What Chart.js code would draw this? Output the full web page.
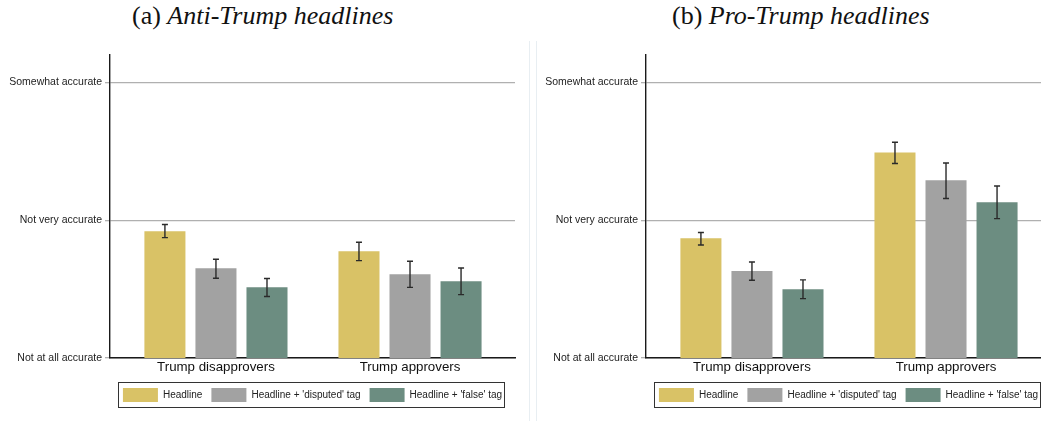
<!DOCTYPE html>
<html>
<head>
<meta charset="utf-8">
<script src="https://cdn.jsdelivr.net/npm/chart.js@4.4.1/dist/chart.umd.min.js"></script>
<style>
  html, body { margin: 0; padding: 0; background: #fff; width: 1041px; height: 421px; overflow: hidden; }
  .panel { position: absolute; top: 0; width: 529px; height: 421px; }
  #panelA { left: 0; }
  #panelB { left: 536px; }
  .edge { position: absolute; top: 41px; bottom: 0; width: 1px; background: #e8eef2; }
  .ttl { position: absolute; top: 3px; font-family: "Liberation Serif", serif; font-size: 26px;
         line-height: 26px; color: #111; white-space: nowrap; }
  canvas { position: absolute; left: 0; top: 0; }
</style>
</head>
<body>
<div class="edge" style="left:529px"></div>
<div class="edge" style="left:536px"></div>
<div class="ttl" style="left:132px">(a) <i>Anti-Trump headlines</i></div>
<div class="ttl" style="left:672px">(b) <i>Pro-Trump headlines</i></div>
<div class="panel" id="panelA"><canvas id="chartA" width="529" height="421"></canvas></div>
<div class="panel" id="panelB"><canvas id="chartB" width="529" height="421"></canvas></div>
<script>
const groups = ['Trump disapprovers', 'Trump approvers'];
const groupPos = [0, 1];
const seriesNames = ['Headline', "Headline + 'disputed' tag", "Headline + 'false' tag"];
const seriesColors = ['#d9c266', '#a2a2a2', '#6c8d81'];
const yTicks = [1, 2, 3];
const yLabels = ['Not at all accurate', 'Not very accurate', 'Somewhat accurate'];

// (a) anti-Trump headlines: mean rating with CI bounds
const antiHeadline = [1.92, 1.775];
const antiHeadlineLo = [1.874, 1.707];
const antiHeadlineHi = [1.969, 1.840];
const antiDisputed = [1.651, 1.608];
const antiDisputedLo = [1.579, 1.513];
const antiDisputedHi = [1.717, 1.702];
const antiFalse = [1.513, 1.557];
const antiFalseLo = [1.446, 1.460];
const antiFalseHi = [1.577, 1.654];

// (b) pro-Trump headlines
const proHeadline = [1.869, 2.492];
const proHeadlineLo = [1.821, 2.412];
const proHeadlineHi = [1.911, 2.566];
const proDisputed = [1.632, 2.29];
const proDisputedLo = [1.564, 2.158];
const proDisputedHi = [1.697, 2.416];
const proFalse = [1.499, 2.131];
const proFalseLo = [1.431, 2.012];
const proFalseHi = [1.567, 2.249];

const sans = '"Liberation Sans", Arial, sans-serif';

// whiskers with caps, drawn on top of the bars
const errorBars = {
    id: 'errorBars',
    afterDatasetsDraw(chart) {
        const ctx = chart.ctx;
        const y = chart.scales.y;
        ctx.save();
        ctx.strokeStyle = '#2a2a2a';
        ctx.lineWidth = 1.4;
        chart.data.datasets.forEach((ds, i) => {
            chart.getDatasetMeta(i).data.forEach((bar, j) => {
                const top = y.getPixelForValue(ds.errHigh[j]);
                const bot = y.getPixelForValue(ds.errLow[j]);
                ctx.beginPath();
                ctx.moveTo(bar.x, top); ctx.lineTo(bar.x, bot);
                ctx.moveTo(bar.x - 3, top); ctx.lineTo(bar.x + 3, top);
                ctx.moveTo(bar.x - 3, bot); ctx.lineTo(bar.x + 3, bot);
                ctx.stroke();
            });
        });
        ctx.restore();
    }
};

// thin frame around the legend row
const legendFrame = {
    id: 'legendFrame',
    afterDraw(chart) {
        const boxes = chart.legend && chart.legend.legendHitBoxes;
        if (!boxes || !boxes.length) return;
        const first = boxes[0], last = boxes[boxes.length - 1];
        const ctx = chart.ctx;
        ctx.save();
        ctx.strokeStyle = '#333';
        ctx.lineWidth = 1;
        const left = Math.round(first.left - 5) + 0.5;
        const right = Math.round(last.left + last.width + 2) + 0.5;
        const top = Math.round(first.top - 6) + 0.5;
        ctx.strokeRect(left, top, right - left, 25);
        ctx.restore();
    }
};

function makeDataset(i, means, lo, hi) {
    return {
        label: seriesNames[i],
        data: groupPos.map((x, j) => ({ x: x, y: means[j] })),
        errLow: lo,
        errHigh: hi,
        backgroundColor: seriesColors[i],
        borderWidth: 0,
        categoryPercentage: 0.789,
        barPercentage: 0.804
    };
}

function makePanel(id, sets) {
    return new Chart(document.getElementById(id), {
        type: 'bar',
        data: {
            datasets: sets.map((s, i) => makeDataset(i, s[0], s[1], s[2]))
        },
        options: {
            responsive: false,
            animation: false,
            layout: {
                padding: { top: 55, right: 14, bottom: 9, left: 0 }
            },
            scales: {
                x: {
                    type: 'linear',
                    offset: false,
                    min: -0.546,
                    max: 1.541,
                    z: 1,
                    afterBuildTicks: (axis) => { axis.ticks = groupPos.map(v => ({ value: v })); },
                    afterFit: (axis) => { axis.height = 21; },
                    grid: { display: false, offset: false, drawTicks: false },
                    border: { display: true, color: '#1a1a1a', width: 1.4 },
                    ticks: {
                        padding: 1,
                        maxRotation: 0,
                        autoSkip: false,
                        color: '#111',
                        font: { family: sans, size: 13.3 },
                        callback: (v) => groups[groupPos.indexOf(v)]
                    }
                },
                y: {
                    min: 1,
                    max: 3.2,
                    afterBuildTicks: (axis) => { axis.ticks = yTicks.map(v => ({ value: v })); },
                    afterFit: (axis) => { axis.width = 110; },
                    grid: { color: '#b0b0b0', lineWidth: 1.3, tickLength: 5, drawTicks: true },
                    border: { display: true, color: '#1a1a1a', width: 1.4 },
                    ticks: {
                        padding: 3,
                        color: '#222',
                        font: { family: sans, size: 10.5 },
                        callback: (v) => yLabels[yTicks.indexOf(v)]
                    }
                }
            },
            plugins: {
                title: { display: false },
                tooltip: { enabled: false },
                legend: {
                    position: 'bottom',
                    fullSize: false,
                    labels: {
                        boxWidth: 35,
                        boxHeight: 14,
                        padding: 9,
                        color: '#222',
                        font: { family: sans, size: 10 }
                    }
                }
            }
        },
        plugins: [errorBars, legendFrame]
    });
}

makePanel('chartA', [
    [antiHeadline, antiHeadlineLo, antiHeadlineHi],
    [antiDisputed, antiDisputedLo, antiDisputedHi],
    [antiFalse, antiFalseLo, antiFalseHi]
]);
makePanel('chartB', [
    [proHeadline, proHeadlineLo, proHeadlineHi],
    [proDisputed, proDisputedLo, proDisputedHi],
    [proFalse, proFalseLo, proFalseHi]
]);
</script>
</body>
</html>
